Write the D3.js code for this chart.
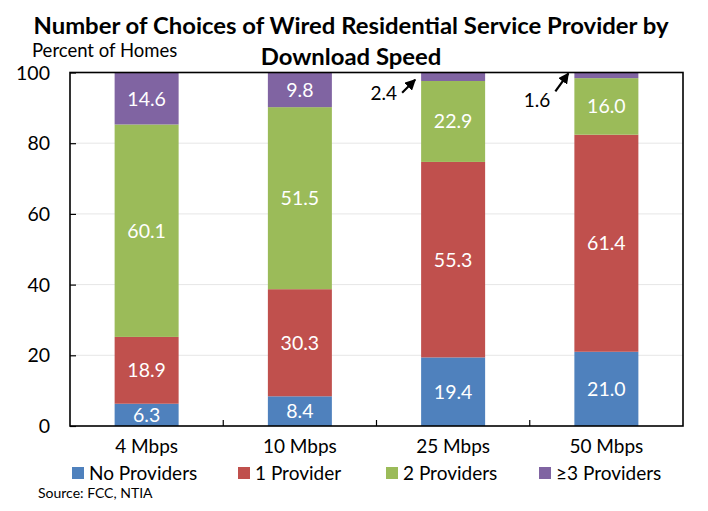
<!DOCTYPE html>
<html><head><meta charset="utf-8">
<script src="https://cdn.jsdelivr.net/npm/d3@7"></script>
<style>body{margin:0;background:#fff}svg{display:block}text{font-family:Lato,"Open Sans",sans-serif}</style>
</head><body>
<svg id="c" width="708" height="511"></svg>
<script>
const categories = ["4 Mbps","10 Mbps","25 Mbps","50 Mbps"];
const seriesNames = ["No Providers","1 Provider","2 Providers","\u22653 Providers"];
const noProviders = [6.3, 8.4, 19.4, 21.0];
const oneProvider = [18.9, 30.3, 55.3, 61.4];
const twoProviders = [60.1, 51.5, 22.9, 16.0];
const threePlus = [14.6, 9.8, 2.4, 1.6];
const yTicks = [0,20,40,60,80,100];
const colors = ["#4F81BD","#C0504D","#9BBB59","#8064A2"];
const outsideLabelMin = 5; // small segments get an arrow label

const svg = d3.select("#c");
const L=70, R=683, T=72.5, B=426;
const x = d3.scaleBand().domain(categories).range([L,R]).paddingInner(0).paddingOuter(0);
const y = d3.scaleLinear().domain([0,100]).range([B,T]);
const barW = 64;

const rows = categories.map((c,i)=>({cat:c, s0:noProviders[i], s1:oneProvider[i], s2:twoProviders[i], s3:threePlus[i]}));
const stack = d3.stack().keys(["s0","s1","s2","s3"])(rows);

// gridlines
svg.append("g").selectAll("line").data(yTicks.filter(t=>t>0&&t<100)).join("line")
  .attr("x1",L).attr("x2",R).attr("y1",d=>y(d)).attr("y2",d=>y(d))
  .attr("stroke","#e6e6e6").attr("stroke-width",1);

// bars
stack.forEach((layer,k)=>{
  const g = svg.append("g");
  g.selectAll("rect").data(layer).join("rect")
    .attr("x",d=>x(d.data.cat)+x.bandwidth()/2-barW/2)
    .attr("width",barW)
    .attr("y",d=>y(d[1]))
    .attr("height",d=>y(d[0])-y(d[1]))
    .attr("fill",colors[k]);
  g.selectAll("text").data(layer.filter(d=>d[1]-d[0]>=outsideLabelMin)).join("text")
    .attr("x",d=>x(d.data.cat)+x.bandwidth()/2)
    .attr("y",d=>y((d[0]+d[1])/2))
    .attr("dy","0.36em")
    .attr("text-anchor","middle")
    .attr("fill","#fff").attr("font-size",19.5)
    .text(d=>(d[1]-d[0]).toFixed(1));
});

// arrow annotations for small segments
const defs = svg.append("defs");
defs.append("marker").attr("id","ah").attr("viewBox","0 0 10 10").attr("refX",9).attr("refY",5)
  .attr("markerWidth",5).attr("markerHeight",5).attr("orient","auto-start-reverse")
  .append("path").attr("d","M0,0L10,5L0,10z").attr("fill","#000");
const small = [];
stack[3].forEach((d,i)=>{ if(d[1]-d[0]<outsideLabelMin) small.push({d,i}); });
small.forEach(({d,i},j)=>{
  const bx = x(d.data.cat)+x.bandwidth()/2-barW/2;
  const ey = y((d[0]+d[1])/2);
  const ex = bx-6, eyy = ey + (j===0?3:-2);
  const sx = ex-13, sy = eyy + (j===0?13:18);
  svg.append("line").attr("x1",sx).attr("y1",sy).attr("x2",ex).attr("y2",eyy)
    .attr("stroke","#000").attr("stroke-width",2.2).attr("marker-end","url(#ah)");
  svg.append("text").attr("x",sx-5).attr("y",sy+(j===0?7:16)).attr("text-anchor","end")
    .attr("font-size",19).attr("fill","#000").text((d[1]-d[0]).toFixed(1));
});

// frame
svg.append("rect").attr("x",L).attr("y",T).attr("width",R-L).attr("height",B-T)
  .attr("fill","none").attr("stroke","#000").attr("stroke-width",1.6);

// y axis
const ya = svg.append("g").attr("transform",`translate(${L},0)`)
  .call(d3.axisRight(y).tickValues(yTicks).tickSize(6).tickFormat(""));
ya.select(".domain").remove();
ya.selectAll("line").attr("stroke","#000").attr("stroke-width",1.2);
svg.append("g").selectAll("text").data(yTicks).join("text")
  .attr("x",50).attr("y",d=>y(d)).attr("dy","0.36em").attr("text-anchor","end")
  .attr("font-size",19.5).attr("fill","#000").text(d=>d);

// x axis: category separator ticks
const bounds = categories.slice(1).map(c=>x(c));
svg.append("g").selectAll("line").data(bounds).join("line")
  .attr("x1",d=>d).attr("x2",d=>d).attr("y1",B).attr("y2",B-6)
  .attr("stroke","#000").attr("stroke-width",1.2);
svg.append("g").selectAll("text").data(categories).join("text")
  .attr("x",d=>x(d)+x.bandwidth()/2).attr("y",453).attr("text-anchor","middle")
  .attr("font-size",19).attr("fill","#000").text(d=>d);

// title
const t1 = svg.append("text").attr("x",351).attr("y",34).attr("text-anchor","middle")
  .attr("font-size",23).attr("font-weight","bold").attr("fill","#000")
  .text("Number of Choices of Wired Residential Service Provider by");
const t2 = svg.append("text").attr("x",351).attr("y",65).attr("text-anchor","middle")
  .attr("font-size",23).attr("font-weight","bold").attr("fill","#000")
  .text("Download Speed");
const w1 = t1.node().getComputedTextLength();
const sc = 635/w1;
t1.attr("textLength",635).attr("lengthAdjust","spacingAndGlyphs");
t2.attr("textLength",t2.node().getComputedTextLength()*sc).attr("lengthAdjust","spacingAndGlyphs");

svg.append("text").attr("x",32).attr("y",57).attr("font-size",18.5).attr("fill","#000").text("Percent of Homes");

// legend
const legX = [72, 238, 386, 539];
const lg = svg.append("g").selectAll("g").data(seriesNames).join("g")
  .attr("transform",(d,i)=>`translate(${legX[i]},467)`);
lg.append("rect").attr("width",12).attr("height",12).attr("fill",(d,i)=>colors[i]);
lg.append("text").attr("x",17).attr("y",13).attr("font-size",19).attr("fill","#000").text(d=>d);

svg.append("text").attr("x",38).attr("y",498).attr("font-size",14).attr("fill","#000").text("Source: FCC, NTIA");
</script>
</body></html>
